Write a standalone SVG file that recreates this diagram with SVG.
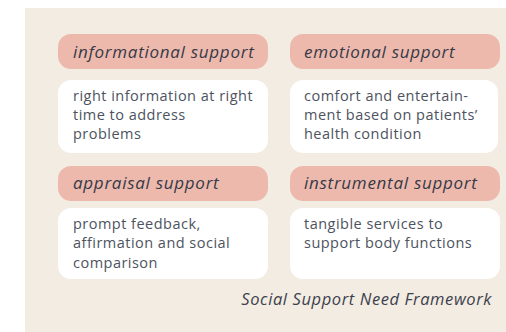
<svg xmlns="http://www.w3.org/2000/svg" width="506" height="332" viewBox="0 0 506 332">
  <style>
    .panel { fill: #F3ECE2; }
    .head { fill: #EEB9AD; }
    .body { fill: #FFFFFF; }
    .htext { font-family: "Open Sans", sans-serif; font-style: italic; font-size: 17px; letter-spacing: 0.72px; fill: #353a47; }
    .btext { font-family: "Open Sans", sans-serif; font-size: 14.5px; letter-spacing: 0.48px; fill: #4d5360; }
    .cap { font-family: "Open Sans", sans-serif; font-style: italic; font-size: 16.5px; letter-spacing: 0.6px; fill: #3c414d; }
  </style>
  <rect x="0" y="0" width="506" height="332" fill="#FFFFFF"/>
  <rect class="panel" x="25" y="8" width="481" height="324"/>

  <g id="informational">
    <rect class="head" x="58" y="34" width="210" height="35" rx="13"/>
    <text class="htext" x="73" y="58">informational support</text>
    <rect class="body" x="58" y="80" width="210" height="73" rx="13"/>
    <text class="btext" x="73" y="101">right information at right</text>
    <text class="btext" x="73" y="120">time to address</text>
    <text class="btext" x="73" y="139">problems</text>
  </g>

  <g id="emotional">
    <rect class="head" x="290" y="34" width="210" height="35" rx="13"/>
    <text class="htext" x="304" y="58">emotional support</text>
    <rect class="body" x="290" y="80" width="208" height="73" rx="13"/>
    <text class="btext" x="304" y="101">comfort and entertain-</text>
    <text class="btext" x="304" y="120">ment based on patients’</text>
    <text class="btext" x="304" y="139">health condition</text>
  </g>

  <g id="appraisal">
    <rect class="head" x="58" y="166" width="210" height="35" rx="13"/>
    <text class="htext" x="73" y="189">appraisal support</text>
    <rect class="body" x="58" y="208" width="210" height="71" rx="13"/>
    <text class="btext" x="73" y="229">prompt feedback,</text>
    <text class="btext" x="73" y="248">affirmation and social</text>
    <text class="btext" x="73" y="268">comparison</text>
  </g>

  <g id="instrumental">
    <rect class="head" x="290" y="166" width="210" height="35" rx="13"/>
    <text class="htext" x="304" y="189">instrumental support</text>
    <rect class="body" x="290" y="208" width="210" height="71" rx="13"/>
    <text class="btext" x="304" y="229">tangible services to</text>
    <text class="btext" x="304" y="248">support body functions</text>
  </g>

  <g id="connectors"/>

  <text class="cap" x="492" y="305" text-anchor="end">Social Support Need Framework</text>
</svg>
